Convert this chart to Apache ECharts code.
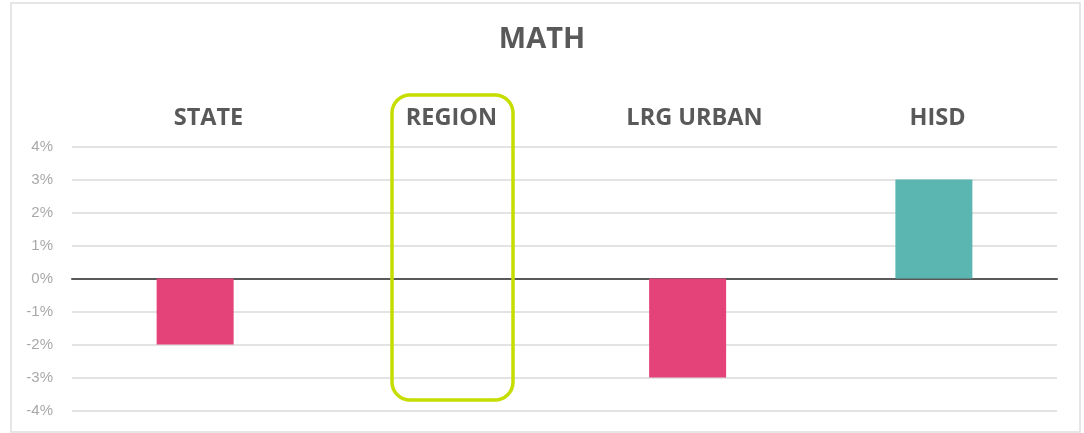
<!DOCTYPE html>
<html>
<head>
    <meta charset="utf-8">
    <title>MATH</title>
    <script src="https://cdn.jsdelivr.net/npm/echarts@6/dist/echarts.min.js"></script>
    <style>
        html, body { margin: 0; padding: 0; background: #fff; }
        #main { width: 1084px; height: 433px; }
    </style>
</head>
<body>
<div id="main"></div>
<script type="text/javascript">
    // data
    var categories = ['STATE', 'REGION', 'LRG URBAN', 'HISD'];
    var change = [-2, null, -3, 3];
    var yTicks = [-4, -3, -2, -1, 0, 1, 2, 3, 4];

    var myChart = echarts.init(document.getElementById('main'));

    var option = {
        backgroundColor: '#fff',
        animation: false,
        title: {
            text: 'MATH',
            left: 'center',
            top: 20,
            textStyle: {
                fontFamily: 'Open Sans',
                fontWeight: 'bold',
                fontSize: 29,
                color: '#595959'
            }
        },
        grid: [
            { left: 72, right: 27, top: 146.5, bottom: 22.5 },
            // only used for the header labels above the plot
            { left: 87, right: 25, top: 146.5, bottom: 22.5 }
        ],
        xAxis: [
            {
                type: 'category',
                gridIndex: 0,
                data: categories,
                position: 'bottom',
                axisLine: { onZero: true, lineStyle: { color: '#595959', width: 2 } },
                axisTick: { show: false },
                axisLabel: { show: false }
            },
            {
                type: 'category',
                gridIndex: 1,
                data: categories,
                position: 'top',
                axisLine: { show: false },
                axisTick: { show: false },
                axisLabel: {
                    margin: 16,
                    fontFamily: 'Open Sans',
                    fontWeight: 'bold',
                    fontSize: 23.5,
                    color: '#595959'
                }
            }
        ],
        yAxis: [
            {
                type: 'value',
                gridIndex: 0,
                min: yTicks[0],
                max: yTicks[yTicks.length - 1],
                interval: 1,
                axisLine: { show: false },
                axisTick: { show: false },
                splitLine: { lineStyle: { color: '#e3e3e3', width: 2 } },
                axisLabel: {
                    margin: 19,
                    fontFamily: 'Liberation Sans',
                    fontSize: 15,
                    color: '#a9a9a9',
                    formatter: '{value}%'
                }
            },
            {
                type: 'value',
                gridIndex: 1,
                show: false,
                min: yTicks[0],
                max: yTicks[yTicks.length - 1]
            }
        ],
        series: [
            {
                type: 'bar',
                xAxisIndex: 0,
                yAxisIndex: 0,
                barWidth: 77,
                data: change,
                itemStyle: {
                    color: function (p) {
                        return p.value < 0 ? '#e4437a' : '#5bb6b1';
                    }
                }
            }
        ],
        graphic: [
            {
                type: 'rect',
                shape: { x: 11, y: 3, width: 1069, height: 429 },
                style: { fill: 'none', stroke: '#dedede', lineWidth: 1.5 },
                z: -1
            },
            {
                type: 'rect',
                shape: { x: 392, y: 95, width: 121, height: 305, r: 18 },
                style: { fill: 'none', stroke: '#c5de00', lineWidth: 3.5 },
                z: 10
            }
        ]
    };

    myChart.setOption(option);
</script>
</body>
</html>
